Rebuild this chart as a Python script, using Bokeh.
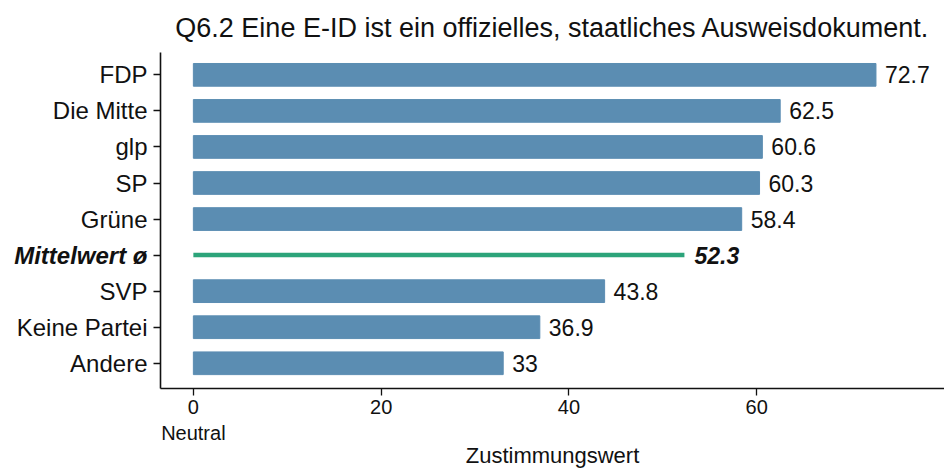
from bokeh.plotting import figure
from bokeh.layouts import row
from bokeh.models import Range1d, FixedTicker, Label, ColumnDataSource
from bokeh.core.properties import value
from bokeh.embed import file_html
from bokeh.resources import INLINE

categories = ["FDP", "Die Mitte", "glp", "SP", "Grüne", "Mittelwert ø", "SVP", "Keine Partei", "Andere"]
values = [72.7, 62.5, 60.6, 60.3, 58.4, 52.3, 43.8, 36.9, 33.0]
mean_label = "Mittelwert ø"
x_ticks = [0, 20, 40, 60]
x_tick_labels = {0: "0\nNeutral", 20: "20", 40: "40", 60: "60"}
title_text = "Q6.2 Eine E-ID ist ein offizielles, staatliches Ausweisdokument."
x_title = "Zustimmungswert"

FONT = "Liberation Sans"
INK = "#111111"
n = len(categories)
ypos = [n - i for i in range(n)]
pos = dict(zip(categories, ypos))

bar_cats = [c for c in categories if c != mean_label]
bar_src = ColumnDataSource(dict(
    y=[pos[c] for c in bar_cats],
    v=[values[categories.index(c)] for c in bar_cats],
    lab=[f"{values[categories.index(c)]:g}" for c in bar_cats],
))
mean_val = values[categories.index(mean_label)]
mean_y = pos[mean_label]

y_range = Range1d(0.3, n + 0.62)
FRAME_H = 336
TOP = 52

# ---------- main plot ----------
p = figure(frame_width=784, frame_height=FRAME_H, output_backend="svg", toolbar_location=None,
           x_range=Range1d(-3.5, 80), y_range=y_range,
           min_border_left=12, min_border_right=0, min_border_top=TOP, min_border_bottom=0)
p.title.text = title_text
p.title.text_font = FONT
p.title.text_font_size = "27px"
p.title.text_font_style = "normal"
p.title.align = "center"
p.title.text_color = INK
p.title.standoff = 20

p.hbar(y="y", right="v", left=0, height=0.63, source=bar_src,
       fill_color="#5b8db2", line_color="#5b8db2")
p.text(x="v", y="y", text="lab", source=bar_src, x_offset=9,
       text_baseline="middle", text_align="left",
       text_font_size="23px", text_color=INK, text_font=value(FONT))

p.line(x=[0, mean_val], y=[mean_y, mean_y], line_color="#2ca47a", line_width=4.5)
p.add_layout(Label(x=mean_val, y=mean_y, text=f"{mean_val:g}", x_offset=10,
                   text_baseline="middle", text_align="left", text_font_size="23px",
                   text_font_style="bold italic", text_font=FONT, text_color=INK))

p.yaxis.ticker = FixedTicker(ticks=ypos)
p.yaxis.major_label_overrides = {y: "" for y in ypos}
p.yaxis.major_label_text_font_size = "1px"
p.yaxis.major_label_standoff = 0

p.xaxis.ticker = FixedTicker(ticks=x_ticks)
p.xaxis.major_label_overrides = x_tick_labels
p.xaxis.major_label_text_font = FONT
p.xaxis.major_label_text_font_size = "20px"
p.xaxis.major_label_text_color = INK
p.xaxis.major_label_standoff = 0
p.xaxis.axis_label = x_title
p.xaxis.axis_label_text_font = FONT
p.xaxis.axis_label_text_font_size = "22px"
p.xaxis.axis_label_text_font_style = "normal"
p.xaxis.axis_label_text_color = INK
p.xaxis.axis_label_standoff = -4

for ax in (p.xaxis, p.yaxis):
    ax.axis_line_width = 1.6
    ax.axis_line_color = INK
    ax.major_tick_line_color = INK
    ax.major_tick_line_width = 1.3
    ax.major_tick_out = 7
    ax.major_tick_in = 0
    ax.minor_tick_line_color = None

p.xgrid.grid_line_color = None
p.ygrid.grid_line_color = None
p.outline_line_color = None

# ---------- category labels (left strip sharing the y range) ----------
lab_src = ColumnDataSource(dict(
    y=[pos[c] for c in bar_cats], t=bar_cats, x=[1.0] * len(bar_cats)))
mean_src = ColumnDataSource(dict(y=[mean_y], t=[mean_label], x=[1.0]))

q = figure(frame_width=148, frame_height=FRAME_H, output_backend="svg", toolbar_location=None,
           x_range=Range1d(0, 1), y_range=y_range,
           min_border_left=0, min_border_right=0, min_border_top=TOP, min_border_bottom=0)
q.text(x="x", y="y", text="t", source=lab_src, x_offset=-1,
       text_align="right", text_baseline="middle", text_font_size="24px",
       text_color=INK, text_font=value(FONT))
q.text(x="x", y="y", text="t", source=mean_src, x_offset=-1,
       text_align="right", text_baseline="middle", text_font_size="24px",
       text_font_style="bold italic", text_color=INK, text_font=value(FONT))
q.axis.visible = False
q.xgrid.grid_line_color = None
q.ygrid.grid_line_color = None
q.outline_line_color = None

layout = row(q, p, spacing=0)
open("out.html", "w").write(file_html(layout, INLINE))
